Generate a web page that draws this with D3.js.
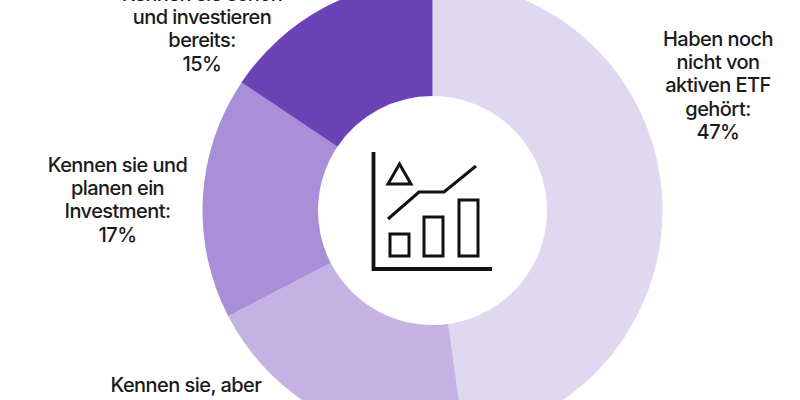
<!DOCTYPE html>
<html><head><meta charset="utf-8">
<style>html,body{margin:0;padding:0;background:#fff;overflow:hidden}svg{display:block}
text{font-family:Inter,"Noto Sans",sans-serif;fill:#1a1a1a;font-size:20px;font-weight:500;text-anchor:middle;letter-spacing:-0.55px}</style>
<script src="https://cdn.jsdelivr.net/npm/d3@7/dist/d3.min.js"></script></head><body>
<script>
const categories=["Haben noch nicht von aktiven ETF gehört","Kennen sie, aber","Kennen sie und planen ein Investment","Kennen sie schon und investieren bereits"];
const shares=[47.8,19.6,17,15.6];
const colors=["#e0d8f1","#c4b3e2","#a88fd8","#6c43b6"];
const labelLines=[["Haben noch","nicht von","aktiven ETF","gehört:","47%"],["Kennen sie, aber"],["Kennen sie und","planen ein","Investment:","17%"],["Kennen sie schon","und investieren","bereits:","15%"]];
const labelPos=[[718,46],[186,392],[117.5,172],[202,1]];
const W=800,H=400,cx=432.5,cy=210.5,R=230,r=114.5;
const svg=d3.select("body").append("svg").attr("width",W).attr("height",H);
const g=svg.append("g").attr("transform",`translate(${cx},${cy})`);
const pie=d3.pie().sort(null).value(d=>d);
const arc=d3.arc().innerRadius(r).outerRadius(R);
g.selectAll("path").data(pie(shares)).join("path").attr("d",arc).attr("fill",(d,i)=>colors[i]);
labelLines.forEach((lines,i)=>{
  const t=svg.append("text").attr("x",labelPos[i][0]).attr("y",labelPos[i][1]);
  lines.forEach((l,j)=>t.append("tspan").attr("x",labelPos[i][0]).attr("dy",j?23.2:0).text(l));
});
const ic=svg.append("g").attr("fill","none").attr("stroke","#111").attr("stroke-width",3);
ic.append("path").attr("d","M373.5,152V269H492").attr("stroke-width",3.8);
ic.append("path").attr("d","M388,184L399.5,164L411,184Z");
ic.append("path").attr("d","M388,219L419,192H444L476,166");
[[390,234,19,22],[424,217,19,39],[459,200,19,56]].forEach(b=>ic.append("rect").attr("x",b[0]).attr("y",b[1]).attr("width",b[2]).attr("height",b[3]));
</script></body></html>
